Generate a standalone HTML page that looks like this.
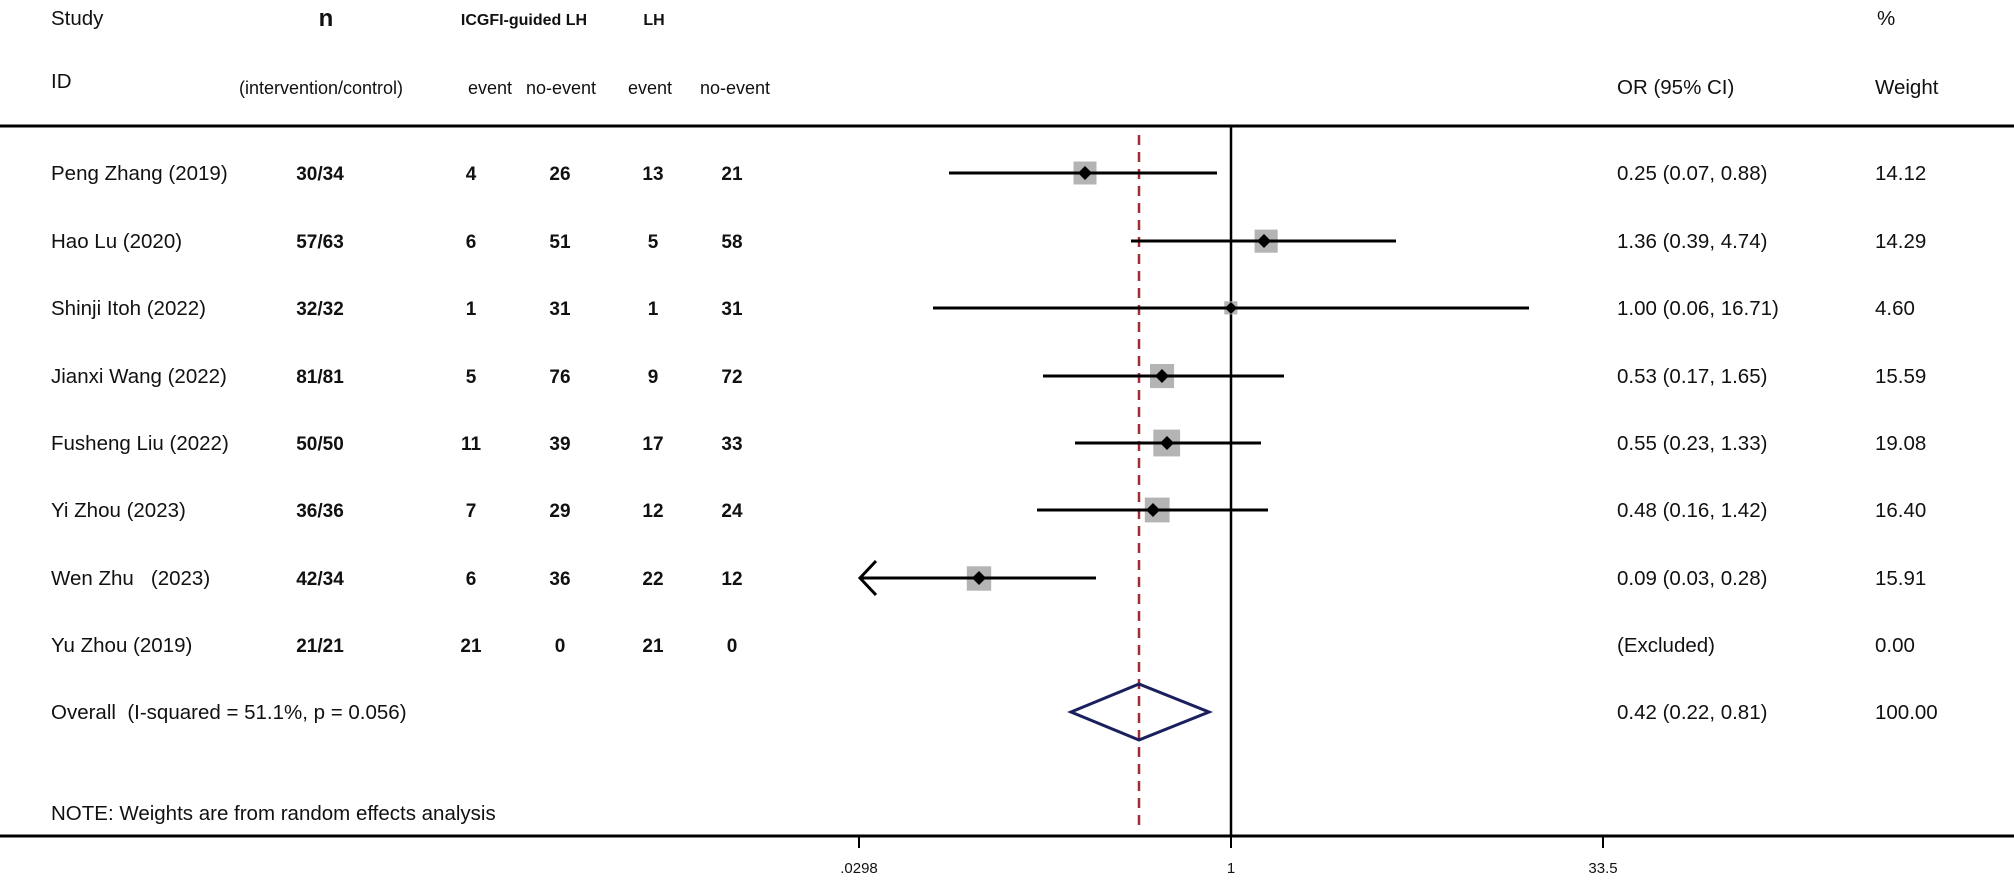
<!DOCTYPE html>
<html><head><meta charset="utf-8"><style>
html,body{margin:0;padding:0;background:#fff;}
svg{display:block;font-family:"Liberation Sans",Arial,sans-serif;}
.t{font-size:20.5px;fill:#111;}
.b{font-size:19px;font-weight:bold;fill:#111;}
.h{font-size:18px;fill:#111;}
</style></head><body>
<svg width="2014" height="887" viewBox="0 0 2014 887" xmlns="http://www.w3.org/2000/svg">
<!-- header -->
<text class="t" x="51" y="25">Study</text>
<text x="326" y="26" font-size="24" font-weight="bold" text-anchor="middle" fill="#111">n</text>
<text x="524" y="25" font-size="16" font-weight="bold" text-anchor="middle" fill="#111">ICGFI-guided LH</text>
<text x="654" y="25" font-size="16" font-weight="bold" text-anchor="middle" fill="#111">LH</text>
<text class="t" x="1877" y="25">%</text>
<text class="t" x="51" y="88">ID</text>
<text class="h" x="321" y="94" text-anchor="middle">(intervention/control)</text>
<text class="h" x="490" y="94" text-anchor="middle">event</text>
<text class="h" x="561" y="94" text-anchor="middle">no-event</text>
<text class="h" x="650" y="94" text-anchor="middle">event</text>
<text class="h" x="735" y="94" text-anchor="middle">no-event</text>
<text class="t" x="1617" y="94">OR (95% CI)</text>
<text class="t" x="1875" y="94">Weight</text>
<line x1="0" y1="126" x2="2014" y2="126" stroke="#000" stroke-width="3"/>
<!-- axes -->
<line x1="1231" y1="126" x2="1231" y2="836" stroke="#000" stroke-width="2.5"/>
<line x1="1139" y1="135" x2="1139" y2="830" stroke="#a52a35" stroke-width="2.5" stroke-dasharray="10,7"/>
<line x1="0" y1="836" x2="2014" y2="836" stroke="#000" stroke-width="3"/>
<line x1="859" y1="836" x2="859" y2="848" stroke="#000" stroke-width="2"/>
<line x1="1231" y1="836" x2="1231" y2="848" stroke="#000" stroke-width="2"/>
<line x1="1603" y1="836" x2="1603" y2="848" stroke="#000" stroke-width="2"/>
<text x="859" y="873" font-size="15" text-anchor="middle" fill="#111">.0298</text>
<text x="1231" y="873" font-size="15" text-anchor="middle" fill="#111">1</text>
<text x="1603" y="873" font-size="15" text-anchor="middle" fill="#111">33.5</text>

<!-- rows -->
<g>
<text class="t" x="51" y="180">Peng Zhang (2019)</text>
<text class="t" x="51" y="248">Hao Lu (2020)</text>
<text class="t" x="51" y="315">Shinji Itoh (2022)</text>
<text class="t" x="51" y="383">Jianxi Wang (2022)</text>
<text class="t" x="51" y="450">Fusheng Liu (2022)</text>
<text class="t" x="51" y="517">Yi Zhou (2023)</text>
<text class="t" x="51" y="585" xml:space="preserve">Wen Zhu   (2023)</text>
<text class="t" x="51" y="652">Yu Zhou (2019)</text>
<text class="t" x="51" y="719" xml:space="preserve">Overall  (I-squared = 51.1%, p = 0.056)</text>
<text class="t" x="51" y="820">NOTE: Weights are from random effects analysis</text>
</g>
<g text-anchor="middle">
<text class="b" x="320" y="180">30/34</text><text class="b" x="471" y="180">4</text><text class="b" x="560" y="180">26</text><text class="b" x="653" y="180">13</text><text class="b" x="732" y="180">21</text>
<text class="b" x="320" y="248">57/63</text><text class="b" x="471" y="248">6</text><text class="b" x="560" y="248">51</text><text class="b" x="653" y="248">5</text><text class="b" x="732" y="248">58</text>
<text class="b" x="320" y="315">32/32</text><text class="b" x="471" y="315">1</text><text class="b" x="560" y="315">31</text><text class="b" x="653" y="315">1</text><text class="b" x="732" y="315">31</text>
<text class="b" x="320" y="383">81/81</text><text class="b" x="471" y="383">5</text><text class="b" x="560" y="383">76</text><text class="b" x="653" y="383">9</text><text class="b" x="732" y="383">72</text>
<text class="b" x="320" y="450">50/50</text><text class="b" x="471" y="450">11</text><text class="b" x="560" y="450">39</text><text class="b" x="653" y="450">17</text><text class="b" x="732" y="450">33</text>
<text class="b" x="320" y="517">36/36</text><text class="b" x="471" y="517">7</text><text class="b" x="560" y="517">29</text><text class="b" x="653" y="517">12</text><text class="b" x="732" y="517">24</text>
<text class="b" x="320" y="585">42/34</text><text class="b" x="471" y="585">6</text><text class="b" x="560" y="585">36</text><text class="b" x="653" y="585">22</text><text class="b" x="732" y="585">12</text>
<text class="b" x="320" y="652">21/21</text><text class="b" x="471" y="652">21</text><text class="b" x="560" y="652">0</text><text class="b" x="653" y="652">21</text><text class="b" x="732" y="652">0</text>
</g>
<g>
<text class="t" x="1617" y="180">0.25 (0.07, 0.88)</text><text class="t" x="1875" y="180">14.12</text>
<text class="t" x="1617" y="248">1.36 (0.39, 4.74)</text><text class="t" x="1875" y="248">14.29</text>
<text class="t" x="1617" y="315">1.00 (0.06, 16.71)</text><text class="t" x="1875" y="315">4.60</text>
<text class="t" x="1617" y="383">0.53 (0.17, 1.65)</text><text class="t" x="1875" y="383">15.59</text>
<text class="t" x="1617" y="450">0.55 (0.23, 1.33)</text><text class="t" x="1875" y="450">19.08</text>
<text class="t" x="1617" y="517">0.48 (0.16, 1.42)</text><text class="t" x="1875" y="517">16.40</text>
<text class="t" x="1617" y="585">0.09 (0.03, 0.28)</text><text class="t" x="1875" y="585">15.91</text>
<text class="t" x="1617" y="652">(Excluded)</text><text class="t" x="1875" y="652">0.00</text>
<text class="t" x="1617" y="719">0.42 (0.22, 0.81)</text><text class="t" x="1875" y="719">100.00</text>
</g>

<!-- boxes -->
<g fill="#b4b4b4">
<rect x="1073.5" y="161.5" width="23" height="23"/>
<rect x="1254.6" y="229.6" width="23.1" height="23.1"/>
<rect x="1224.3" y="301.3" width="13.1" height="13.1"/>
<rect x="1150.0" y="364.0" width="24.1" height="24.1"/>
<rect x="1153.3" y="429.6" width="26.8" height="26.8"/>
<rect x="1144.8" y="497.6" width="24.8" height="24.8"/>
<rect x="966.8" y="566.3" width="24.4" height="24.4"/>
</g>
<!-- CI lines -->
<g stroke="#000" stroke-width="3" fill="none">
<line x1="949" y1="173" x2="1217" y2="173"/>
<line x1="1131" y1="241" x2="1396" y2="241"/>
<line x1="933" y1="308" x2="1529" y2="308"/>
<line x1="1043" y1="376" x2="1284" y2="376"/>
<line x1="1075" y1="443" x2="1261" y2="443"/>
<line x1="1037" y1="510" x2="1268" y2="510"/>
<line x1="860" y1="578" x2="1096" y2="578"/>
<polyline points="876,561 860,578 876,595" stroke-width="3"/>
</g>
<!-- point diamonds -->
<g fill="#000">
<polygon points="1085,166 1092,173 1085,180 1078,173"/>
<polygon points="1264,234 1271,241 1264,248 1257,241"/>
<polygon points="1231,302 1237,308 1231,314 1225,308"/>
<polygon points="1162,369 1169,376 1162,383 1155,376"/>
<polygon points="1167,436 1174,443 1167,450 1160,443"/>
<polygon points="1153,503 1160,510 1153,517 1146,510"/>
<polygon points="979,571 986,578 979,585 972,578"/>
</g>
<!-- overall diamond -->
<polygon points="1071,712 1139,684 1209,712 1139,740" fill="none" stroke="#1a1f5e" stroke-width="3"/>
</svg>
</body></html>
